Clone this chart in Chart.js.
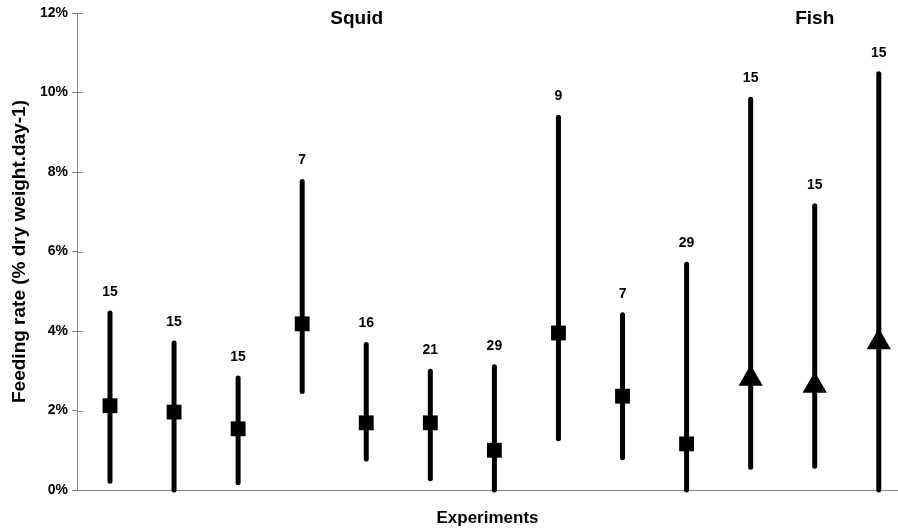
<!DOCTYPE html>
<html>
<head>
<meta charset="utf-8">
<script src="https://cdn.jsdelivr.net/npm/chart.js@4/dist/chart.umd.min.js"></script>
<style>
  html, body { margin: 0; padding: 0; background: #fff; overflow: hidden; }
  #wrap { width: 898px; height: 531px; position: relative; }
</style>
</head>
<body>
<div id="wrap"><canvas id="c" width="898" height="531"></canvas></div>
<script>
// ---- Data (feeding rate, % dry weight per day) ----
const experiments = [1, 2, 3, 4, 5, 6, 7, 8, 9, 10, 11, 12, 13];
const groups      = ['Squid','Squid','Squid','Squid','Squid','Squid','Squid','Squid','Squid','Squid','Fish','Fish','Fish'];
const means       = [2.12, 1.96, 1.54, 4.18, 1.69, 1.69, 1.00, 3.95, 2.36, 1.16, 2.80, 2.62, 3.72];
const lows        = [0.22, 0.00, 0.18, 2.48, 0.78, 0.28, 0.00, 1.29, 0.81, 0.00, 0.57, 0.60, 0.00];
const highs       = [4.45, 3.70, 2.82, 7.76, 3.66, 2.99, 3.10, 9.38, 4.41, 5.68, 9.83, 7.15, 10.47];
const sampleSizes = [15, 15, 15, 7, 16, 21, 29, 9, 7, 29, 15, 15, 15];
const yTicks      = [0, 2, 4, 6, 8, 10, 12];
const groupTitles = ['Squid', 'Fish'];

const FONT = '"Liberation Sans", Arial, Helvetica, sans-serif';
const AXIS_GREY = '#868686';

const squidPts = [], fishPts = [];
experiments.forEach((x, i) => {
  const p = { x: x, y: means[i] };
  (groups[i] === 'Squid' ? squidPts : fishPts).push(p);
});

const errorBarPlugin = {
  id: 'errorBars',
  beforeDatasetsDraw(chart) {
    const { ctx, scales: { x, y } } = chart;
    ctx.save();
    ctx.strokeStyle = '#000';
    ctx.lineWidth = 5;
    ctx.lineCap = 'round';
    experiments.forEach((ex, i) => {
      const px = x.getPixelForValue(ex);
      ctx.beginPath();
      ctx.moveTo(px, y.getPixelForValue(lows[i]));
      ctx.lineTo(px, y.getPixelForValue(highs[i]));
      ctx.stroke();
    });
    ctx.restore();
  },
  afterDatasetsDraw(chart) {
    const { ctx, scales: { x, y } } = chart;
    ctx.save();
    ctx.fillStyle = '#000';
    ctx.textAlign = 'center';
    ctx.textBaseline = 'middle';
    ctx.font = 'bold 14px ' + FONT;
    experiments.forEach((ex, i) => {
      ctx.fillText(String(sampleSizes[i]), x.getPixelForValue(ex), y.getPixelForValue(highs[i]) - 21);
    });
    // group titles
    ctx.font = 'bold 19px ' + FONT;
    const titleX = [4.85, 12.0];
    groupTitles.forEach((t, k) => {
      ctx.fillText(t, x.getPixelForValue(titleX[k]), y.getPixelForValue(11.86));
    });
    // inner half of the cross tick marks
    ctx.strokeStyle = AXIS_GREY;
    ctx.lineWidth = 1;
    const left = chart.chartArea.left;
    yTicks.forEach(v => {
      const py = Math.round(y.getPixelForValue(v)) + 0.5;
      ctx.beginPath();
      ctx.moveTo(left, py);
      ctx.lineTo(left + 6, py);
      ctx.stroke();
    });
    ctx.restore();
  }
};

new Chart(document.getElementById('c'), {
  type: 'scatter',
  data: {
    datasets: [
      { label: 'Squid', data: squidPts, pointStyle: 'rect', pointRadius: 10.5, pointHoverRadius: 10.5,
        backgroundColor: '#000', borderColor: '#000', borderWidth: 0, showLine: false, clip: false },
      { label: 'Fish', data: fishPts, pointStyle: 'triangle', pointRadius: 14, pointHoverRadius: 14,
        backgroundColor: '#000', borderColor: '#000', borderWidth: 0, showLine: false, clip: false }
    ]
  },
  options: {
    responsive: false,
    animation: false,
    events: [],
    layout: { autoPadding: false, padding: { top: 13, right: 0, bottom: 0, left: 0 } },
    plugins: { legend: { display: false }, tooltip: { enabled: false } },
    scales: {
      x: {
        type: 'linear',
        min: 0.485,
        max: 13.3,
        ticks: { display: false },
        grid: { display: false },
        border: { display: true, color: AXIS_GREY, width: 1 },
        title: { display: true, text: 'Experiments', color: '#000',
                 font: { family: FONT, size: 17, weight: 'bold' }, padding: { top: 0, bottom: 2 } },
        afterFit(scale) { scale.height = 41; }
      },
      y: {
        type: 'linear',
        min: 0,
        max: 12,
        afterBuildTicks(scale) { scale.ticks = yTicks.map(v => ({ value: v })); },
        ticks: { callback: v => v + '%', color: '#000', padding: 4,
                 font: { family: FONT, size: 14, weight: 'bold' } },
        grid: { display: true, drawOnChartArea: false, tickLength: 5, color: AXIS_GREY },
        border: { display: true, color: AXIS_GREY, width: 1 },
        title: { display: true, text: 'Feeding rate (% dry weight.day-1)', color: '#000',
                 font: { family: FONT, size: 19, weight: 'bold' }, padding: { top: 8, bottom: 0 } },
        afterFit(scale) { scale.width = 77; }
      }
    }
  },
  plugins: [errorBarPlugin]
});
</script>
</body>
</html>
